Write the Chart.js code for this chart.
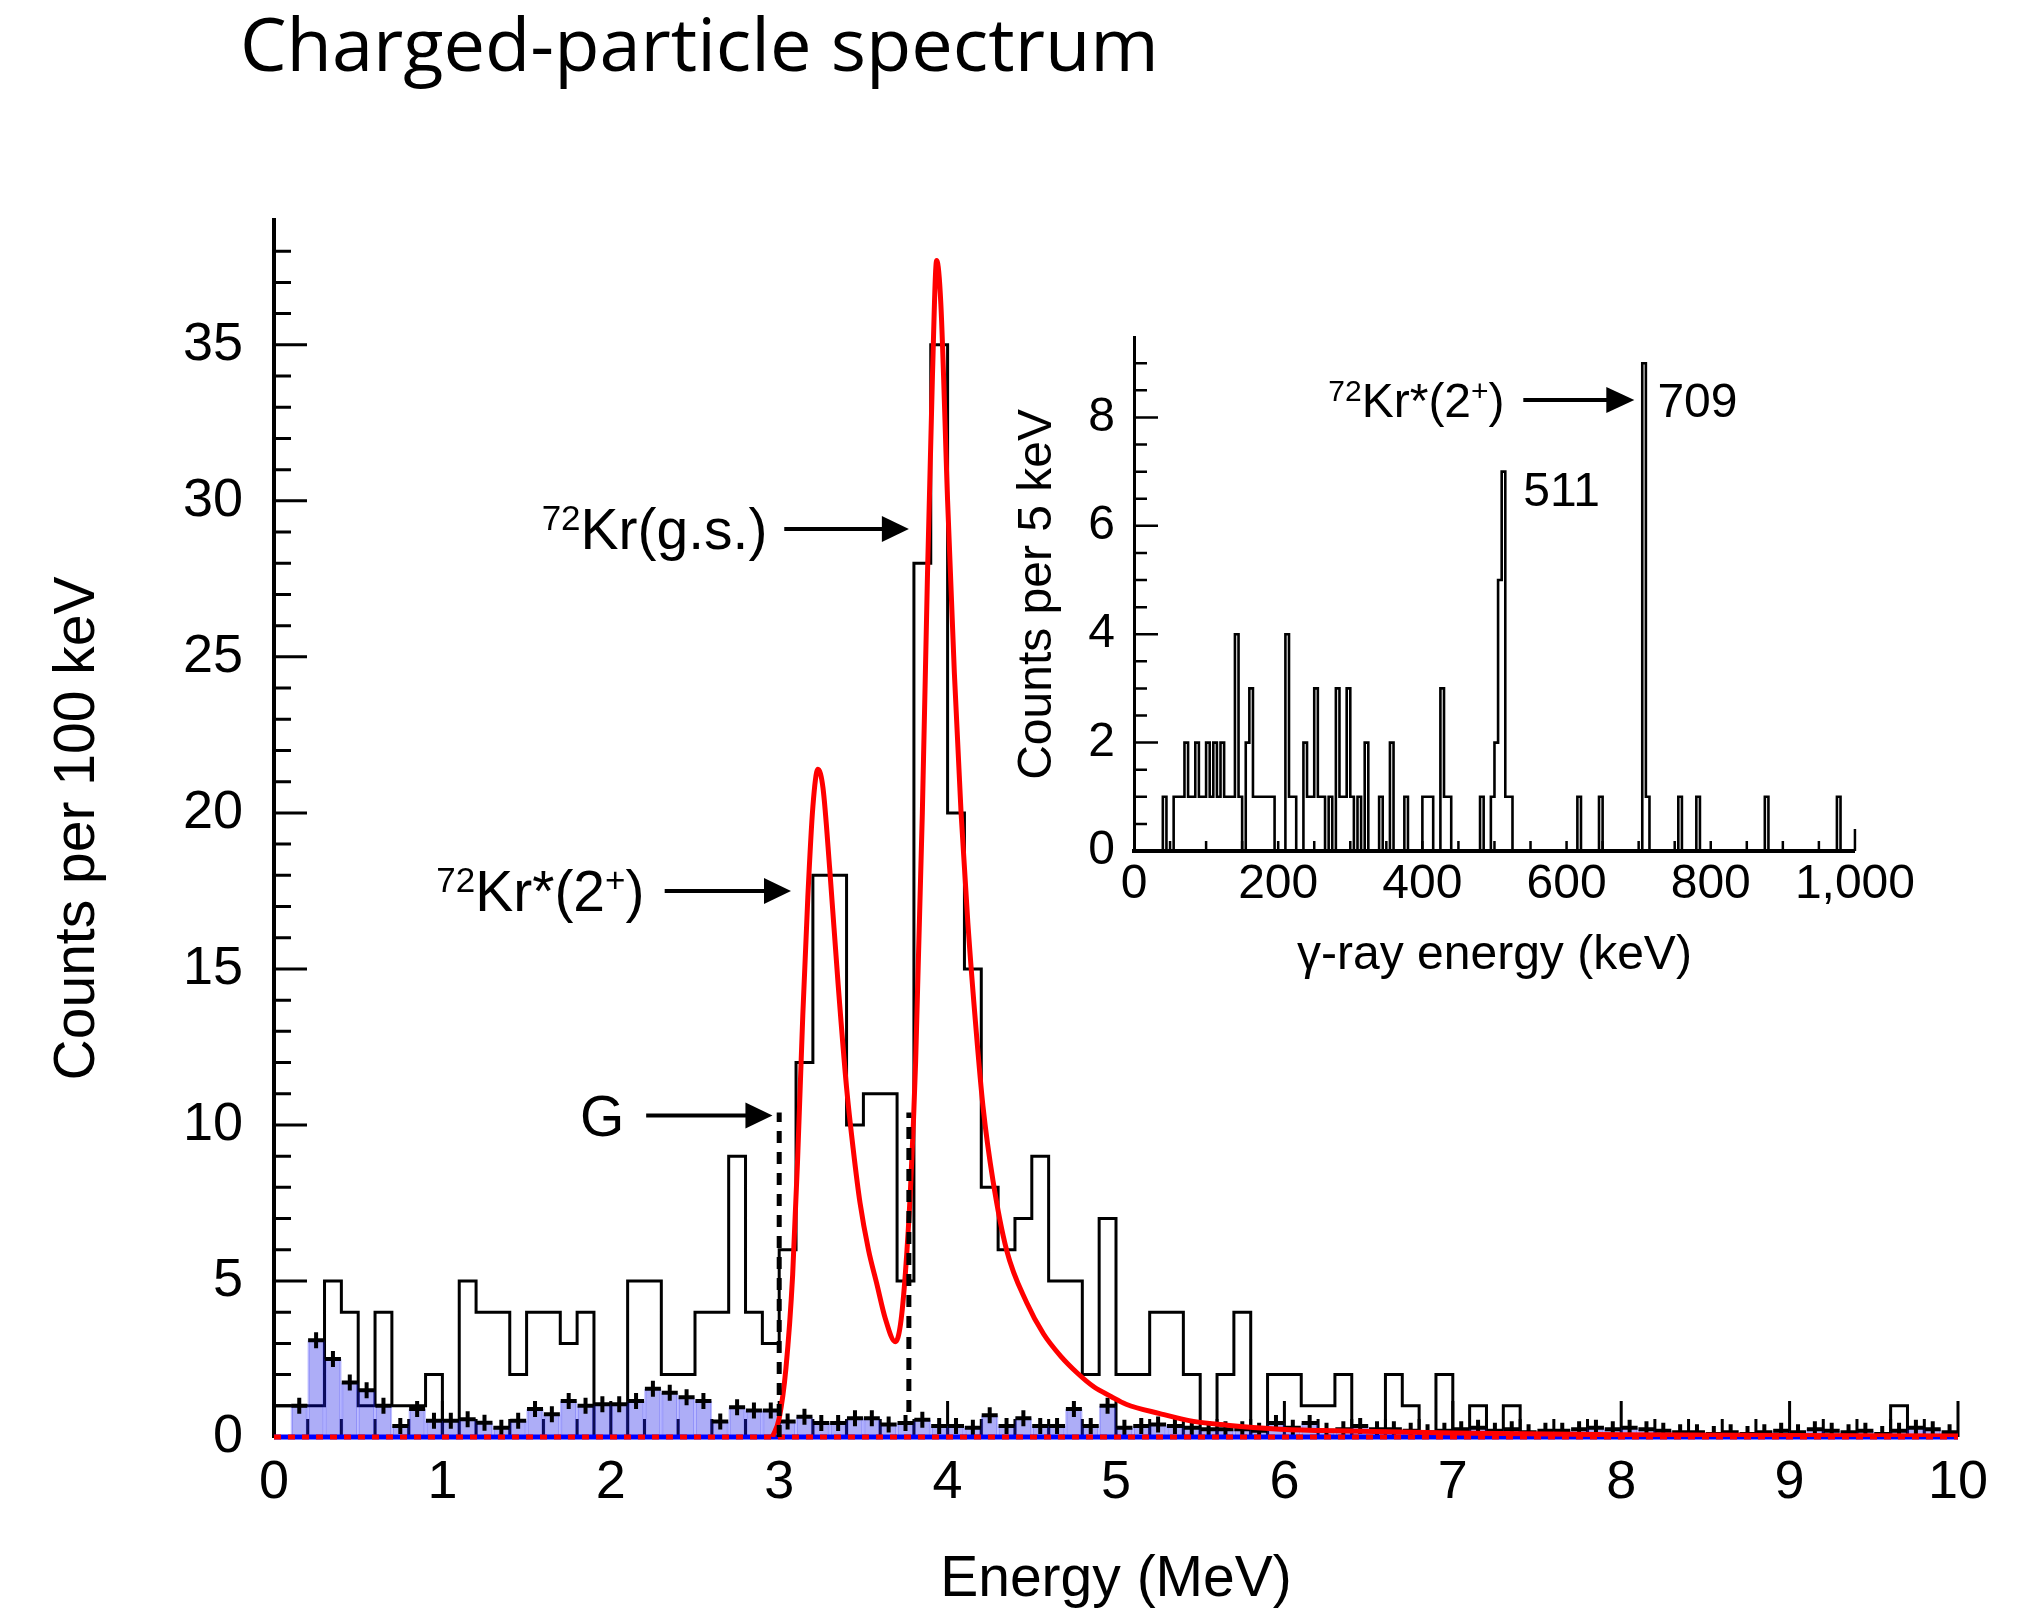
<!DOCTYPE html>
<html lang="en">
<head>
<meta charset="UTF-8">
<title>Charged-particle spectrum</title>
<script src="https://cdn.jsdelivr.net/npm/chart.js@4"></script>
<style>
    body {
        margin: 0;
        background: #fff;
        overflow: hidden;
    }

    #page {
        position: relative;
        width: 2034px;
        height: 1616px;
    }

    h1 {
        position: absolute;
        left: 240px;
        top: 6px;
        margin: 0;
        font-family: 'Open Sans', sans-serif;
        font-weight: 400;
        font-size: 74px;
        line-height: 74px;
        color: #000;
        white-space: nowrap;
    }

    #main {
        position: absolute;
        left: 0;
        top: 0;
    }

    #inset {
        position: absolute;
        left: 960px;
        top: 290px;
    }
</style>
</head>
<body>
<div id="page">
    <canvas id="main" width="2034" height="1616"></canvas>
    <canvas id="inset" width="960" height="720"></canvas>
    <h1>Charged-particle spectrum</h1>
</div>

<script>
    const FONT = "'Liberation Sans', Arial, Helvetica, sans-serif";
    Chart.defaults.font.family = FONT;
    Chart.defaults.color = '#000';

    // charged-particle energy spectrum, 100 keV bins from 0 to 10 MeV
    const binWidth = 0.1;
    const energyRange = [0, 10];
    const spectrumCounts = [
        1, 1, 1, 5, 4, 1, 4, 1, 1, 2,
        0, 5, 4, 4, 2, 4, 4, 3, 4, 0,
        0, 5, 5, 2, 2, 4, 4, 9, 4, 3,
        6, 12, 18, 18, 10, 11, 11, 5, 28, 35,
        20, 15, 8, 6, 7, 9, 5, 5, 2, 7,
        2, 2, 4, 4, 2, 0, 2, 4, 0, 2,
        2, 1, 1, 2, 0, 0, 2, 1, 0, 2,
        0, 1, 0, 1, 0, 0, 0, 0, 0, 0,
        0, 0, 0, 0, 0, 0, 0, 0, 0, 0,
        0, 0, 0, 0, 0, 0, 1, 0, 0, 0
    ];
    // background estimate (blue, with error crosses)
    const backgroundCounts = [
        0, 1.0, 3.1, 2.5, 1.75, 1.5, 1.0, 0.35, 0.9, 0.52,
        0.52, 0.57, 0.46, 0.3, 0.52, 0.9, 0.73, 1.15, 1.0, 1.05,
        1.05, 1.15, 1.55, 1.42, 1.27, 1.15, 0.5, 0.95, 0.85, 0.85,
        0.5, 0.65, 0.45, 0.45, 0.6, 0.6, 0.4, 0.45, 0.55, 0.35,
        0.35, 0.3, 0.7, 0.35, 0.6, 0.35, 0.35, 0.9, 0.35, 1.0,
        0.3, 0.35, 0.4, 0.35, 0.3, 0.25, 0.25, 0.25, 0.2, 0.45,
        0.3, 0.45, 0.2, 0.25, 0.35, 0.25, 0.25, 0.2, 0.15, 0.2,
        0.25, 0.3, 0.2, 0.25, 0.15, 0.2, 0.2, 0.25, 0.3, 0.25,
        0.3, 0.25, 0.2, 0.15, 0.15, 0.1, 0.15, 0.1, 0.15, 0.2,
        0.15, 0.25, 0.2, 0.15, 0.2, 0.1, 0.2, 0.3, 0.25, 0.15
    ];
    // two-peak fit (red curve)
    const fitEnergy = [
        2.96, 3.00, 3.04, 3.08, 3.11, 3.14, 3.17, 3.20, 3.23, 3.26,
        3.30, 3.35, 3.40, 3.44, 3.48, 3.53, 3.58, 3.63, 3.69, 3.72,
        3.75, 3.78, 3.81, 3.85, 3.88, 3.91, 3.935, 3.96, 4.00, 4.04,
        4.08, 4.12, 4.17, 4.21, 4.27, 4.35, 4.47, 4.57, 4.67, 4.77,
        4.87, 4.97, 5.06, 5.26, 5.46, 5.66, 5.95, 6.3, 7.0, 8.0,
        9.0, 10.0
    ];
    const fitCounts = [
        0, 0.6, 2.2, 5.2, 9.0, 13.5, 17.3, 20.2, 21.4, 20.8,
        18.2, 14.5, 11.2, 9.2, 7.5, 6.0, 4.9, 3.8, 3.05, 3.6,
        5.3, 8.0, 12.0, 20.0, 27.5, 34.0, 37.7, 36.3, 30.0, 24.5,
        20.0, 16.5, 13.0, 10.6, 8.2, 6.0, 4.3, 3.3, 2.6, 2.05,
        1.6, 1.3, 1.05, 0.75, 0.5, 0.38, 0.26, 0.2, 0.13, 0.07,
        0.05, 0.03
    ];
    // gate limits (dotted lines)
    const gateEnergy = [3.0, 3.77];
    const gateFrom = [0, 0.8];
    const gateTo = [10.4, 10.4];

    // gamma-ray spectrum in coincidence, 5 keV bins; only non-empty bins are listed
    const gammaBinWidth = 5;
    const gammaRange = [0, 1000];
    const gammaBinStart = [
        40, 55, 60, 65, 70, 75, 80, 85, 90, 95,
        100, 105, 110, 115, 120, 125, 130, 135, 140, 145,
        155, 160, 165, 170, 175, 180, 185, 190, 210, 215,
        220, 235, 240, 245, 250, 255, 260, 270, 280, 285,
        290, 295, 300, 310, 320, 340, 355, 375, 400, 405,
        410, 425, 430, 435, 480, 495, 500, 505, 510, 515,
        520, 615, 645, 705, 710, 755, 780, 875, 975
    ];
    const gammaCounts = [
        1, 1, 1, 1, 2, 1, 1, 2, 1, 1,
        2, 1, 2, 1, 2, 1, 1, 1, 4, 1,
        2, 3, 1, 1, 1, 1, 1, 1, 4, 1,
        1, 2, 1, 1, 3, 1, 1, 1, 3, 1,
        1, 3, 1, 1, 2, 1, 2, 1, 1, 1,
        1, 3, 1, 1, 1, 1, 2, 5, 7, 1,
        1, 1, 1, 9, 1, 1, 1, 1, 1
    ];

    // ---- helpers for the annotations ----
    function drawRich(ctx, parts, x, yMid, size, align) {
        const supSize = Math.round(size * 0.62);
        const widths = parts.map(([t, sup]) => {
            ctx.font = `${sup ? supSize : size}px ${FONT}`;
            return ctx.measureText(t).width;
        });
        const total = widths.reduce((a, b) => a + b, 0);
        let cx = align === 'right' ? x - total : x;
        const base = yMid + size * 0.36;
        ctx.textAlign = 'left';
        ctx.textBaseline = 'alphabetic';
        parts.forEach(([t, sup], i) => {
            ctx.font = `${sup ? supSize : size}px ${FONT}`;
            ctx.fillText(t, cx, sup ? base - size * 0.34 : base);
            cx += widths[i];
        });
    }

    function drawArrow(ctx, x1, x2, y, head, halfW) {
        ctx.beginPath();
        ctx.moveTo(x1, y);
        ctx.lineTo(x2 - head + 2, y);
        ctx.stroke();
        ctx.beginPath();
        ctx.moveTo(x2, y);
        ctx.lineTo(x2 - head, y - halfW);
        ctx.lineTo(x2 - head, y + halfW);
        ctx.closePath();
        ctx.fill();
    }

    // ---- main spectrum ----
    const histPoints = spectrumCounts.map((c, i) => ({ x: +(i * binWidth).toFixed(2), y: c }));
    histPoints.push({ x: energyRange[1], y: spectrumCounts[spectrumCounts.length - 1] });
    const bgBars = backgroundCounts.map((c, i) => ({ x: +((i + 0.5) * binWidth).toFixed(3), y: c }));
    const bgErrors = bgBars.filter(p => p.y > 0);
    const fitPoints = fitEnergy.map((e, i) => ({ x: e, y: fitCounts[i] }));
    const baselinePoints = energyRange.map(e => ({ x: e, y: 0 }));
    const gateSets = gateEnergy.map((e, i) => ({
        label: 'gate',
        data: [{ x: e, y: gateFrom[i] }, { x: e, y: gateTo[i] }],
        borderColor: '#000',
        borderWidth: 5,
        borderDash: [12, 9],
        pointRadius: 0,
        order: 0
    }));

    const mainTicks = {
        id: 'mainTicks',
        beforeDatasetsDraw(chart) {
            const { ctx, chartArea: a, scales: { x, y } } = chart;
            ctx.save();
            ctx.strokeStyle = '#000';
            ctx.lineWidth = 3;
            ctx.beginPath();
            for (let v = 1; v < 39; v++) {
                const py = y.getPixelForValue(v);
                ctx.moveTo(a.left, py);
                ctx.lineTo(a.left + (v % 5 === 0 ? 33 : 17), py);
            }
            for (let i = 1; i <= 50; i++) {
                const px = x.getPixelForValue(i * 0.2);
                ctx.moveTo(px, a.bottom);
                ctx.lineTo(px, a.bottom - (i % 5 === 0 ? 36 : 18));
            }
            ctx.stroke();
            ctx.restore();
        }
    };

    const mainLabels = [
        { parts: [['72', true], ['Kr(g.s.)', false]], textEnd: 2.93, from: 3.03, to: 3.77, y: 29.1 },
        { parts: [['72', true], ['Kr*(2', false], ['+', true], [')', false]], textEnd: 2.20, from: 2.32, to: 3.07, y: 17.5 },
        { parts: [['G', false]], textEnd: 2.08, from: 2.21, to: 2.96, y: 10.3 }
    ];

    const mainNotes = {
        id: 'mainNotes',
        afterDatasetsDraw(chart) {
            const { ctx, scales: { x, y } } = chart;
            ctx.save();
            ctx.fillStyle = '#000';
            ctx.strokeStyle = '#000';
            ctx.lineWidth = 4;
            mainLabels.forEach(n => {
                const py = y.getPixelForValue(n.y);
                drawRich(ctx, n.parts, x.getPixelForValue(n.textEnd), py, 57, 'right');
                drawArrow(ctx, x.getPixelForValue(n.from), x.getPixelForValue(n.to), py, 27, 13);
            });
            ctx.restore();
        }
    };

    new Chart(document.getElementById('main'), {
        type: 'line',
        data: {
            datasets: [
                ...gateSets,
                {
                    label: 'fit',
                    data: fitPoints,
                    borderColor: '#ff0000',
                    borderWidth: 5,
                    pointRadius: 0,
                    cubicInterpolationMode: 'monotone',
                    order: 1
                },
                {
                    label: 'fit baseline',
                    data: baselinePoints,
                    borderColor: '#ff0000',
                    borderWidth: 5,
                    borderDash: [7, 7],
                    pointRadius: 0,
                    clip: 6,
                    order: 2
                },
                {
                    label: 'background baseline',
                    data: baselinePoints,
                    borderColor: '#0000ff',
                    borderWidth: 5,
                    pointRadius: 0,
                    clip: 6,
                    order: 3
                },
                {
                    label: 'background errors',
                    data: bgErrors,
                    showLine: false,
                    pointStyle: 'cross',
                    pointRadius: 8,
                    pointBorderWidth: 4,
                    pointBorderColor: '#000',
                    order: 4
                },
                {
                    type: 'bar',
                    label: 'background',
                    data: bgBars,
                    backgroundColor: 'rgba(0, 0, 230, 0.32)',
                    borderColor: 'rgba(40, 40, 255, 0.3)',
                    borderWidth: { left: 1.5, right: 1.5, top: 0, bottom: 0 },
                    barPercentage: 1,
                    categoryPercentage: 1,
                    order: 5
                },
                {
                    label: 'counts',
                    data: histPoints,
                    stepped: true,
                    borderColor: '#000',
                    borderWidth: 3,
                    pointRadius: 0,
                    fill: false,
                    order: 6
                }
            ]
        },
        options: {
            responsive: false,
            devicePixelRatio: 1,
            animation: false,
            events: [],
            layout: { padding: { left: 40, right: 76, top: 220, bottom: 3 } },
            plugins: {
                legend: { display: false },
                tooltip: { enabled: false }
            },
            scales: {
                x: {
                    type: 'linear',
                    min: energyRange[0],
                    max: energyRange[1],
                    offset: false,
                    afterFit: s => { s.height = 176; },
                    grid: { offset: false, drawOnChartArea: false, drawTicks: false },
                    border: { display: false },
                    ticks: { stepSize: 1, padding: 14, maxRotation: 0, autoSkip: false, font: { size: 54 } },
                    title: {
                        display: true,
                        text: 'Energy (MeV)',
                        font: { size: 57, lineHeight: 1 },
                        padding: { top: 0, bottom: 4 }
                    }
                },
                y: {
                    type: 'linear',
                    min: 0,
                    max: 39,
                    afterFit: s => { s.width = 234; },
                    grid: { drawOnChartArea: false, drawTicks: false },
                    border: { display: true, color: '#000', width: 4 },
                    ticks: { stepSize: 5, includeBounds: false, padding: 31, font: { size: 54 } },
                    title: {
                        display: true,
                        text: 'Counts per 100 keV',
                        font: { size: 57 },
                        padding: { top: 4, bottom: 4 }
                    }
                }
            }
        },
        plugins: [mainTicks, mainNotes]
    });

    // ---- inset: gamma-ray spectrum ----
    const gammaHist = [];
    for (let e = gammaRange[0]; e < gammaRange[1]; e += gammaBinWidth) {
        const k = gammaBinStart.indexOf(e);
        gammaHist.push({ x: e, y: k >= 0 ? gammaCounts[k] : 0 });
    }
    gammaHist.push({ x: gammaRange[1], y: 0 });

    const insetTicks = {
        id: 'insetTicks',
        afterDatasetsDraw(chart) {
            const { ctx, chartArea: a, scales: { x, y } } = chart;
            ctx.save();
            ctx.strokeStyle = '#000';
            ctx.lineWidth = 2.5;
            ctx.beginPath();
            for (let v = 0.5; v < 9.5; v += 0.5) {
                const py = y.getPixelForValue(v);
                ctx.moveTo(a.left, py);
                ctx.lineTo(a.left + (v % 2 === 0 ? 24 : 13), py);
            }
            for (let e = 50; e <= 1000; e += 50) {
                const px = x.getPixelForValue(e);
                ctx.moveTo(px, a.bottom);
                ctx.lineTo(px, a.bottom - (e === 1000 ? 22 : 10));
            }
            ctx.stroke();
            ctx.restore();
        }
    };

    const insetNotes = {
        id: 'insetNotes',
        afterDatasetsDraw(chart) {
            const { ctx, scales: { x, y } } = chart;
            ctx.save();
            ctx.fillStyle = '#000';
            ctx.strokeStyle = '#000';
            ctx.lineWidth = 4;
            const py = y.getPixelForValue(8.32);
            drawRich(ctx, [['72', true], ['Kr*(2', false], ['+', true], [')', false]], x.getPixelForValue(514), py, 48, 'right');
            drawArrow(ctx, x.getPixelForValue(540), x.getPixelForValue(694), py, 28, 13);
            drawRich(ctx, [['709', false]], x.getPixelForValue(726), py, 48, 'left');
            drawRich(ctx, [['511', false]], x.getPixelForValue(540), y.getPixelForValue(6.68), 48, 'left');
            ctx.restore();
        }
    };

    new Chart(document.getElementById('inset'), {
        type: 'line',
        data: {
            datasets: [{
                label: 'gamma counts',
                data: gammaHist,
                stepped: true,
                borderColor: '#000',
                borderWidth: 2.6,
                pointRadius: 0,
                fill: false
            }]
        },
        options: {
            responsive: false,
            devicePixelRatio: 1,
            animation: false,
            events: [],
            layout: { padding: { left: 45, right: 56, top: 25, bottom: 26 } },
            plugins: {
                legend: { display: false },
                tooltip: { enabled: false }
            },
            scales: {
                x: {
                    type: 'linear',
                    min: gammaRange[0],
                    max: gammaRange[1],
                    afterFit: s => { s.height = 133; },
                    grid: { drawOnChartArea: false, drawTicks: false },
                    border: { display: true, color: '#000', width: 4 },
                    ticks: {
                        stepSize: 200,
                        padding: 5,
                        maxRotation: 0,
                        autoSkip: false,
                        font: { size: 48 },
                        callback: v => v.toLocaleString('en-US')
                    },
                    title: {
                        display: true,
                        text: 'γ-ray energy (keV)',
                        font: { size: 48, lineHeight: 1 },
                        padding: { top: 0, bottom: 4 }
                    }
                },
                y: {
                    type: 'linear',
                    min: 0,
                    max: 9.47,
                    afterFit: s => { s.width = 129; },
                    grid: { drawOnChartArea: false, drawTicks: false },
                    border: { display: true, color: '#000', width: 3 },
                    ticks: { stepSize: 2, includeBounds: false, padding: 19, font: { size: 48 } },
                    title: {
                        display: true,
                        text: 'Counts per 5 keV',
                        font: { size: 48 },
                        padding: { top: 4, bottom: 4 }
                    }
                }
            }
        },
        plugins: [insetTicks, insetNotes]
    });
</script>
</body>
</html>
